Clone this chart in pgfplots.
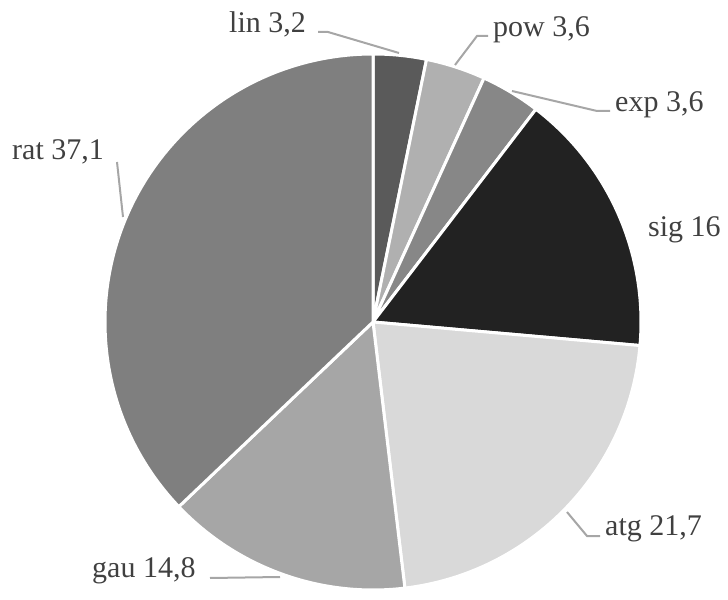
\documentclass[border=0pt]{standalone}
\usepackage{pgfplots}
\pgfplotsset{compat=1.18}
\usepackage{fontspec}
\setmainfont{Liberation Serif}
\definecolor{cLin}{HTML}{5A5A5A}
\definecolor{cPow}{HTML}{B0B0B0}
\definecolor{cExp}{HTML}{878787}
\definecolor{cSig}{HTML}{222222}
\definecolor{cAtg}{HTML}{D9D9D9}
\definecolor{cGau}{HTML}{A6A6A6}
\definecolor{cRat}{HTML}{7F7F7F}
\definecolor{cTxt}{HTML}{404040}
\definecolor{cLead}{HTML}{A6A6A6}
\begin{document}
\begin{tikzpicture}
\begin{axis}[x=1pt, y=1pt, xmin=0, xmax=728, ymin=0, ymax=592, hide axis, clip=false,
  scale only axis]
\path (axis cs:0,0) rectangle (axis cs:728,592);
% wedges: values lin 3.2, pow 3.6, exp 3.6, sig 16, atg 21.7, gau 14.8, rat 37.1
\fill[fill=cLin, draw=white, line width=3pt] (axis cs:373,270) -- ++(90:268pt) arc[start angle=90, delta angle=-3.6*3.2, radius=268pt] -- cycle;
\fill[fill=cPow, draw=white, line width=3pt] (axis cs:373,270) -- ++({90-3.6*3.2}:268pt) arc[start angle={90-3.6*3.2}, delta angle=-3.6*3.6, radius=268pt] -- cycle;
\fill[fill=cExp, draw=white, line width=3pt] (axis cs:373,270) -- ++({90-3.6*6.8}:268pt) arc[start angle={90-3.6*6.8}, delta angle=-3.6*3.6, radius=268pt] -- cycle;
\fill[fill=cSig, draw=white, line width=3pt] (axis cs:373,270) -- ++({90-3.6*10.4}:268pt) arc[start angle={90-3.6*10.4}, delta angle=-3.6*16, radius=268pt] -- cycle;
\fill[fill=cAtg, draw=white, line width=3pt] (axis cs:373,270) -- ++({90-3.6*26.4}:268pt) arc[start angle={90-3.6*26.4}, delta angle=-3.6*21.7, radius=268pt] -- cycle;
\fill[fill=cGau, draw=white, line width=3pt] (axis cs:373,270) -- ++({90-3.6*48.1}:268pt) arc[start angle={90-3.6*48.1}, delta angle=-3.6*14.8, radius=268pt] -- cycle;
\fill[fill=cRat, draw=white, line width=3pt] (axis cs:373,270) -- ++({90-3.6*62.9}:268pt) arc[start angle={90-3.6*62.9}, delta angle=-3.6*37.1, radius=268pt] -- cycle;
% leader lines
\addplot[cLead, line width=2pt, no marks] coordinates {(318,560) (328,560) (399,539)};
\addplot[cLead, line width=2pt, no marks] coordinates {(455,527) (477,556) (488,556)};
\addplot[cLead, line width=2pt, no marks] coordinates {(512,501) (597,481) (610,481)};
\addplot[cLead, line width=2pt, no marks] coordinates {(567,80) (587,56) (600,56)};
\addplot[cLead, line width=2pt, no marks] coordinates {(210,14) (280,15)};
\addplot[cLead, line width=2pt, no marks] coordinates {(117,430) (123,375)};
% labels
\begin{scope}[every node/.style={anchor=base west, inner sep=0pt, text=cTxt, font=\fontsize{30}{36}\selectfont}]
\node at (axis cs:229,559) {lin 3,2};
\node at (axis cs:493,555) {pow 3,6};
\node at (axis cs:615,480) {exp 3,6};
\node at (axis cs:648,355) {sig 16};
\node at (axis cs:605,57) {atg 21,7};
\node at (axis cs:92,15) {gau 14,8};
\node at (axis cs:12,432) {rat 37,1};
\end{scope}
\end{axis}
\end{tikzpicture}
\end{document}
